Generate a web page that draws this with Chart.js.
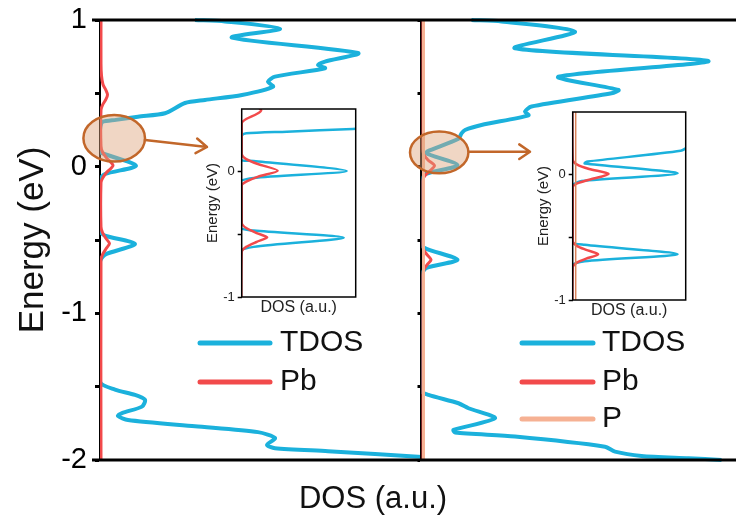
<!DOCTYPE html>
<html>
<head>
<meta charset="utf-8">
<script src="https://cdn.jsdelivr.net/npm/chart.js@4.4.1/dist/chart.umd.min.js"></script>
<style>
    html, body { margin: 0; padding: 0; background: #fff; }
    #wrap { position: relative; width: 736px; height: 522px; overflow: hidden; }
    #wrap canvas { position: absolute; left: 0; top: 0; }
</style>
</head>
<body>
<div id="wrap">
    <canvas id="mainLeft" width="736" height="522"></canvas>
    <canvas id="mainRight" width="736" height="522"></canvas>
    <canvas id="insetLeft" width="736" height="522"></canvas>
    <canvas id="insetRight" width="736" height="522"></canvas>
</div>
<script>
// Tick labels
const energyTicks = [-2, -1, 0, 1];
const insetTicks = [-1, 0];

// Curves as [energy (eV), DOS (a.u.)]
const leftTDOS = [
    [1.00, 95], [0.99, 125], [0.94, 180], [0.88, 132], [0.775, 258], [0.716, 225],
    [0.693, 218], [0.671, 225], [0.614, 175], [0.58, 168], [0.545, 173], [0.489, 142],
    [0.455, 105], [0.434, 85], [0.364, 65], [0.341, 38], [0.319, 16], [0.306, 2.5],
    [0.29, 1], [0.25, 0], [0.10, 0], [0.085, 5], [0.006, 36], [-0.05, 5], [-0.09, 0],
    [-0.44, 0], [-0.47, 5], [-0.527, 35], [-0.60, 5], [-0.65, 0], [-1.466, 0],
    [-1.52, 15], [-1.556, 35], [-1.59, 45], [-1.636, 42], [-1.68, 22], [-1.70, 18],
    [-1.727, 28], [-1.77, 95], [-1.81, 158], [-1.85, 175], [-1.897, 167], [-1.92, 175],
    [-1.94, 228], [-1.98, 322], [-2.0, 360]
];
const leftPb = [
    [1.0, 1], [0.70, 1], [0.62, 1.5], [0.56, 3], [0.52, 6], [0.49, 7.5], [0.46, 6],
    [0.42, 2.5], [0.386, 1], [0.14, 1], [0.10, 2.5], [0.06, 6.5], [0.008, 13],
    [-0.04, 6.5], [-0.08, 2.5], [-0.11, 1], [-0.41, 1], [-0.45, 2.5], [-0.49, 6],
    [-0.524, 9.5], [-0.56, 6], [-0.60, 2.5], [-0.64, 1], [-2.0, 1]
];
const rightTDOS = [
    [1.0, 50], [0.99, 80], [0.92, 153.5], [0.807, 93.5], [0.72, 287], [0.613, 137],
    [0.523, 197], [0.50, 190], [0.41, 110], [0.375, 103.5], [0.35, 107], [0.284, 60],
    [0.25, 43.5], [0.227, 40], [0.19, 37], [0.105, 6], [0.09, 5], [0.01, 36],
    [-0.05, 4], [-0.09, 0.5], [-0.12, 0], [-0.53, 0], [-0.56, 5], [-0.635, 36],
    [-0.69, 5], [-0.74, 0], [-1.53, 0], [-1.556, 7], [-1.613, 37], [-1.647, 47],
    [-1.715, 73.5], [-1.795, 32], [-1.813, 33.5], [-1.84, 93.5], [-1.909, 183.5],
    [-1.943, 193.5], [-1.972, 220], [-1.988, 267], [-2.0, 300]
];
const rightPb = [
    [1.0, 1], [0.12, 1], [0.08, 2.5], [0.045, 6.5], [0.006, 13], [-0.04, 6.5],
    [-0.07, 2.5], [-0.10, 1], [-0.53, 1], [-0.57, 2.5], [-0.60, 5.5], [-0.635, 9.5],
    [-0.67, 5.5], [-0.70, 2.5], [-0.74, 1], [-2.0, 1]
];
const rightP = [[1.0, 2], [-2.0, 2]];

const FONT = '"Liberation Sans", Arial, Helvetica, sans-serif';
const BLUE = '#1bb1dc';
const RED = '#f24a4b';
const PEACH = '#f6b193';
const BROWN = '#c2672a';

function toXY(points) {
    return points.map(([e, d]) => ({ x: d, y: e }));
}

function lineSet(label, points, color, width, order, clip) {
    return {
        label,
        data: toXY(points),
        borderColor: color,
        backgroundColor: color,
        borderWidth: width,
        pointRadius: 0,
        showLine: true,
        tension: 0.25,
        fill: false,
        order,
        clip
    };
}

// fixed axis width, no extra label padding so the plot box stays put
function fixWidth(w) {
    return s => {
        s.width = w;
        s.paddingTop = 0;
        s.paddingBottom = 0;
    };
}

// Top and bottom frame lines of a main panel
const framePlugin = {
    id: 'frame',
    afterDraw(chart, args, o) {
        const { ctx, chartArea: a } = chart;
        ctx.save();
        ctx.strokeStyle = '#000';
        ctx.lineWidth = 3;
        ctx.beginPath();
        ctx.moveTo(o.from, a.top); ctx.lineTo(o.to, a.top);
        ctx.moveTo(o.from, a.bottom); ctx.lineTo(o.to, a.bottom);
        ctx.stroke();
        ctx.restore();
    }
};

// Ellipse round the Fermi level plus the arrow towards the inset
const highlightPlugin = {
    id: 'highlight',
    afterDatasetsDraw(chart, args, o) {
        const { ctx, scales: { x, y } } = chart;
        const cx = x.getPixelForValue(o.center[1]);
        const cy = y.getPixelForValue(o.center[0]);
        const rx = Math.abs(x.getPixelForValue(o.center[1] + o.rx) - cx);
        const ry = Math.abs(y.getPixelForValue(o.center[0] + o.ry) - cy);
        ctx.save();
        ctx.beginPath();
        ctx.ellipse(cx, cy, rx, ry, 0, 0, Math.PI * 2);
        ctx.fillStyle = 'rgba(222, 165, 125, 0.45)';
        ctx.fill();
        ctx.lineWidth = 2.5;
        ctx.strokeStyle = BROWN;
        ctx.stroke();

        const x0 = x.getPixelForValue(o.from[1]), y0 = y.getPixelForValue(o.from[0]);
        const x1 = x.getPixelForValue(o.to[1]), y1 = y.getPixelForValue(o.to[0]);
        const ang = Math.atan2(y1 - y0, x1 - x0);
        ctx.lineCap = 'round';
        ctx.lineJoin = 'round';
        ctx.beginPath();
        ctx.moveTo(x0, y0); ctx.lineTo(x1, y1);
        ctx.moveTo(x1 - 13 * Math.cos(ang - 0.6), y1 - 13 * Math.sin(ang - 0.6));
        ctx.lineTo(x1, y1);
        ctx.lineTo(x1 - 13 * Math.cos(ang + 0.6), y1 - 13 * Math.sin(ang + 0.6));
        ctx.stroke();
        ctx.restore();
    }
};

// Legend drawn inside the plot
const legendPlugin = {
    id: 'inLegend',
    afterDraw(chart, args, o) {
        const { ctx } = chart;
        ctx.save();
        ctx.font = '30px ' + FONT;
        ctx.textBaseline = 'middle';
        ctx.lineCap = 'round';
        ctx.lineWidth = 5;
        chart.data.datasets.forEach((ds, i) => {
            const yy = o.rows[i];
            ctx.strokeStyle = ds.borderColor;
            ctx.beginPath();
            ctx.moveTo(o.x0, yy); ctx.lineTo(o.x1, yy);
            ctx.stroke();
            ctx.fillStyle = '#111';
            ctx.fillText(ds.label, o.textX, yy);
        });
        ctx.restore();
    }
};

// Shared x-axis caption under both panels
const captionPlugin = {
    id: 'caption',
    afterDraw(chart, args, o) {
        const { ctx } = chart;
        ctx.save();
        ctx.font = '31px ' + FONT;
        ctx.fillStyle = '#111';
        ctx.textAlign = 'center';
        ctx.textBaseline = 'alphabetic';
        ctx.fillText(o.text, o.x, o.y);
        ctx.restore();
    }
};

// White background and frame for the insets
const boxPlugin = {
    id: 'box',
    beforeDraw(chart) {
        const { ctx, chartArea: a } = chart;
        ctx.save();
        ctx.fillStyle = '#fff';
        ctx.fillRect(a.left, a.top, a.right - a.left, a.bottom - a.top);
        ctx.restore();
    },
    afterDraw(chart) {
        const { ctx, chartArea: a } = chart;
        ctx.save();
        ctx.strokeStyle = '#000';
        ctx.lineWidth = 1.5;
        ctx.strokeRect(a.left, a.top, a.right - a.left, a.bottom - a.top);
        ctx.restore();
    }
};

const baseOptions = {
    responsive: false,
    animation: false,
    events: [],
    devicePixelRatio: 1
};

const mainClip = { left: 0, right: 2, top: 2, bottom: 2 };

// Left main panel
new Chart(document.getElementById('mainLeft'), {
    type: 'scatter',
    data: {
        datasets: [
            lineSet('TDOS', leftTDOS, BLUE, 4, 3, mainClip),
            lineSet('Pb', leftPb, RED, 3, 2, mainClip)
        ]
    },
    options: {
        ...baseOptions,
        layout: { padding: { left: 0, right: 736 - 421, top: 20, bottom: 62 } },
        scales: {
            x: { type: 'linear', display: false, min: 0, max: 321 },
            y: {
                type: 'linear', min: -2, max: 1,
                afterFit: fixWidth(100),
                ticks: {
                    stepSize: 0.5, autoSkip: false, padding: 8, color: '#000',
                    font: { family: FONT, size: 29 },
                    callback: v => energyTicks.includes(v) ? String(v) : ''
                },
                grid: { drawOnChartArea: false, drawTicks: true, tickLength: 5, tickWidth: 3, tickColor: '#000' },
                border: { display: true, color: '#000', width: 2 },
                title: {
                    display: true, text: 'Energy (eV)', color: '#111',
                    font: { family: FONT, size: 35 }, padding: { top: 12, bottom: 0 }
                }
            }
        },
        plugins: {
            legend: { display: false },
            tooltip: { enabled: false },
            frame: { from: 92, to: 421 },
            highlight: { center: [0.194, 14.2], rx: 30.8, ry: 0.159, from: [0.182, 45], to: [0.134, 107] },
            inLegend: { x0: 200, x1: 270, textX: 280, rows: [343, 382] },
            caption: { text: 'DOS (a.u.)', x: 373, y: 508 }
        }
    },
    plugins: [framePlugin, highlightPlugin, legendPlugin, captionPlugin]
});

// Right main panel
new Chart(document.getElementById('mainRight'), {
    type: 'scatter',
    data: {
        datasets: [
            lineSet('TDOS', rightTDOS, BLUE, 4, 3, mainClip),
            lineSet('Pb', rightPb, RED, 3, 2, mainClip),
            lineSet('P', rightP, PEACH, 3, 1, mainClip)
        ]
    },
    options: {
        ...baseOptions,
        layout: { padding: { left: 421.5 - 6, right: 0, top: 20, bottom: 62 } },
        scales: {
            x: { type: 'linear', display: false, min: 0, max: 314.5 },
            y: {
                type: 'linear', min: -2, max: 1,
                afterFit: fixWidth(6),
                ticks: { stepSize: 0.5, autoSkip: false, padding: 0, callback: () => '' },
                grid: { drawOnChartArea: false, drawTicks: true, tickLength: 4, tickWidth: 3, tickColor: '#000' },
                border: { display: true, color: '#000', width: 2.5 }
            }
        },
        plugins: {
            legend: { display: false },
            tooltip: { enabled: false },
            frame: { from: 421, to: 736 },
            highlight: { center: [0.097, 17.7], rx: 29.2, ry: 0.142, from: [0.102, 47.5], to: [0.102, 108.5] },
            inLegend: { x0: 522, x1: 593, textX: 602, rows: [343, 382, 419] }
        }
    },
    plugins: [framePlugin, highlightPlugin, legendPlugin]
});

// Zoomed insets near the Fermi level
function insetChart(id, sets, box) {
    const W = 40, H = 25;
    return new Chart(document.getElementById(id), {
        type: 'scatter',
        data: { datasets: sets },
        options: {
            ...baseOptions,
            layout: { padding: { left: box.left - W, right: 736 - box.right, top: box.top, bottom: 522 - box.bottom - H } },
            scales: {
                x: {
                    type: 'linear', min: 1, max: box.xMax,
                    afterFit: s => { s.height = H; },
                    ticks: { display: false },
                    grid: { display: false },
                    border: { display: false },
                    title: {
                        display: true, text: 'DOS (a.u.)', color: '#222',
                        font: { family: FONT, size: 16 }, padding: { top: 0, bottom: 4.4 }
                    }
                },
                y: {
                    type: 'linear', min: -1, max: 0.5,
                    afterFit: fixWidth(W),
                    ticks: {
                        stepSize: 0.5, autoSkip: false, padding: 3, color: '#222',
                        font: { family: FONT, size: 13 },
                        callback: v => insetTicks.includes(v) ? String(v) : ''
                    },
                    grid: {
                        drawOnChartArea: false, drawTicks: true, tickLength: 4, tickWidth: 1.5,
                        tickColor: c => (c.tick && c.tick.value === 0.5) ? 'rgba(0,0,0,0)' : '#000'
                    },
                    border: { display: false },
                    title: {
                        display: true, text: 'Energy (eV)', color: '#222',
                        font: { family: FONT, size: 15 }, padding: { top: 2, bottom: 0 }
                    }
                }
            },
            plugins: { legend: { display: false }, tooltip: { enabled: false } }
        },
        plugins: [boxPlugin]
    });
}

insetChart('insetLeft', [
    lineSet('TDOS', leftTDOS, BLUE, 2.5, 3),
    lineSet('Pb', leftPb, RED, 2.5, 2)
], { left: 241.7, right: 355.7, top: 109, bottom: 297, xMax: 39 });

insetChart('insetRight', [
    lineSet('TDOS', rightTDOS, BLUE, 2.5, 3),
    lineSet('Pb', rightPb, RED, 2.5, 2),
    lineSet('P', rightP, '#d9825a', 1.5, 1)
], { left: 572.7, right: 685.7, top: 112, bottom: 300, xMax: 38.7 });
</script>
</body>
</html>
